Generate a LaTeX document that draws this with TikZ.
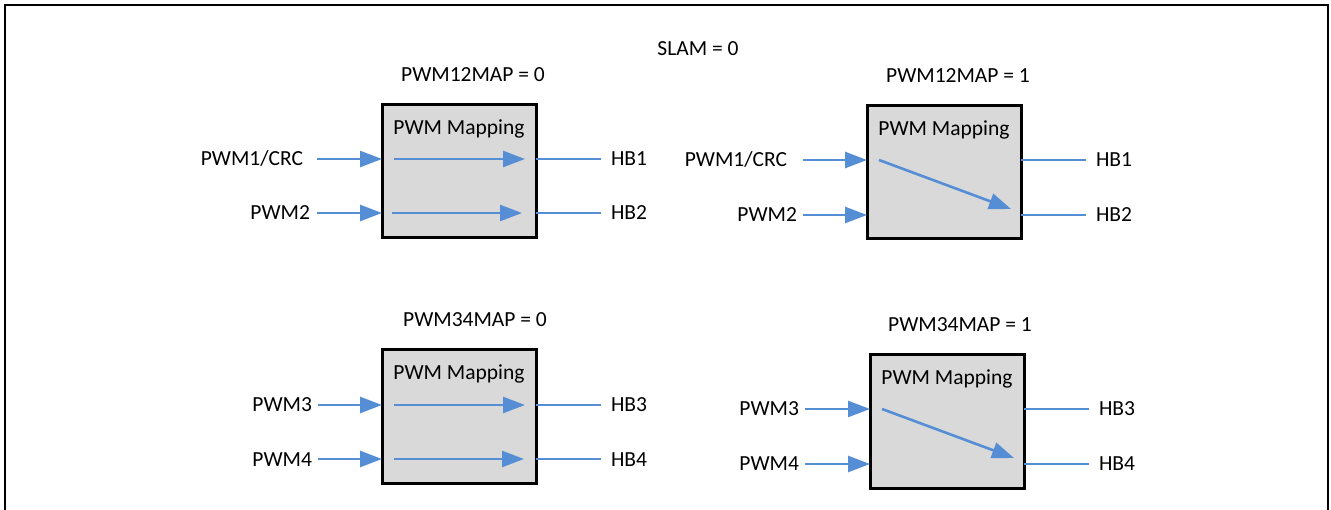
\documentclass[tikz,border=0pt]{standalone}
\usepackage{fontspec}
\setmainfont{Carlito}
\usepackage{xcolor}
\definecolor{sigblue}{RGB}{85, 142, 213}
\definecolor{boxgray}{RGB}{217, 217, 217}
\usetikzlibrary{
  arrows.meta,
  positioning
}

\begin{document}
\begin{tikzpicture}[x=1pt, y=-1pt,
  font=\fontsize{21.5}{26}\selectfont,
  mapbox/.style={draw=black, line width=3pt, fill=boxgray,
    minimum width=154pt, minimum height=133pt, inner sep=0pt},
  lbl/.style={inner sep=0pt, outer sep=0pt, text height=14pt, text depth=0pt},
  sig/.style={draw=sigblue, line width=2.6pt},
  sigarrow/.style={sig, -{Triangle[length=22pt, width=16pt]}}]

  \useasboundingbox (0, 0) rectangle (1331, 510);

  % outer frame (open at the bottom)
  \draw[line width=2pt] (5, 530) -- (5, 5) -- (1328, 5) -- (1328, 530);

  \node[lbl, anchor=base] (slam) at (698, 56) {SLAM = 0};

  % PWM12MAP = 0: straight through
  \begin{scope}[shift={(382, 105)}]
    \node[mapbox] (m12a) at (77, 66.5) {};
    \node[lbl, anchor=base] (m12at) at (77, 30) {PWM Mapping};
    \node[lbl, anchor=base] (m12ah) at (91, -23) {PWM12MAP = 0};
    \coordinate (m12ai1) at (0, 54);
    \coordinate (m12ai2) at (0, 108);
    \coordinate (m12ao1) at (154, 54);
    \coordinate (m12ao2) at (154, 108);
    \node[lbl, left=79pt of m12ai1] (pwm1a) {PWM1/CRC};
    \node[lbl, left=72pt of m12ai2] (pwm2a) {PWM2};
    \node[lbl, right=75pt of m12ao1] (hb1a) {HB1};
    \node[lbl, right=75pt of m12ao2] (hb2a) {HB2};
    \draw[sigarrow, shorten <=14pt] (pwm1a) -- (m12ai1);
    \draw[sigarrow, shorten <=7pt] (pwm2a) -- (m12ai2);
    \draw[sig, shorten >=10pt] (m12ao1) -- (hb1a);
    \draw[sig, shorten >=10pt] (m12ao2) -- (hb2a);
    \draw[sigarrow] ([xshift=12pt]m12ai1) -- ([xshift=-11pt]m12ao1);
    \draw[sigarrow] ([xshift=10pt]m12ai2) -- ([xshift=-14pt]m12ao2);
  \end{scope}

  % PWM12MAP = 1: PWM1/CRC drives HB2
  \begin{scope}[shift={(867, 106)}]
    \node[mapbox] (m12b) at (77, 66.5) {};
    \node[lbl, anchor=base] (m12bt) at (77, 30) {PWM Mapping};
    \node[lbl, anchor=base] (m12bh) at (91, -23) {PWM12MAP = 1};
    \coordinate (m12bi1) at (0, 54);
    \coordinate (m12bi2) at (0, 109);
    \coordinate (m12bo1) at (154, 54);
    \coordinate (m12bo2) at (154, 109);
    \node[lbl, left=80pt of m12bi1] (pwm1b) {PWM1/CRC};
    \node[lbl, left=70pt of m12bi2] (pwm2b) {PWM2};
    \node[lbl, right=75pt of m12bo1] (hb1b) {HB1};
    \node[lbl, right=75pt of m12bo2] (hb2b) {HB2};
    \draw[sigarrow, shorten <=16pt] (pwm1b) -- (m12bi1);
    \draw[sigarrow, shorten <=6pt] (pwm2b) -- (m12bi2);
    \draw[sig, shorten >=10pt] (m12bo1) -- (hb1b);
    \draw[sig, shorten >=10pt] (m12bo2) -- (hb2b);
    \draw[sigarrow] ([xshift=12pt]m12bi1) -- ([xshift=-10pt, yshift=6pt]m12bo2);
  \end{scope}

  % PWM34MAP = 0: straight through
  \begin{scope}[shift={(382, 350)}]
    \node[mapbox] (m34a) at (77, 66.5) {};
    \node[lbl, anchor=base] (m34at) at (77, 30) {PWM Mapping};
    \node[lbl, anchor=base] (m34ah) at (93, -23) {PWM34MAP = 0};
    \coordinate (m34ai1) at (0, 55);
    \coordinate (m34ai2) at (0, 109);
    \coordinate (m34ao1) at (154, 55);
    \coordinate (m34ao2) at (154, 109);
    \node[lbl, left=70pt of m34ai1] (pwm3a) {PWM3};
    \node[lbl, left=70pt of m34ai2] (pwm4a) {PWM4};
    \node[lbl, right=75pt of m34ao1] (hb3a) {HB3};
    \node[lbl, right=75pt of m34ao2] (hb4a) {HB4};
    \draw[sigarrow, shorten <=6pt] (pwm3a) -- (m34ai1);
    \draw[sigarrow, shorten <=6pt] (pwm4a) -- (m34ai2);
    \draw[sig, shorten >=10pt] (m34ao1) -- (hb3a);
    \draw[sig, shorten >=10pt] (m34ao2) -- (hb4a);
    \draw[sigarrow] ([xshift=12pt]m34ai1) -- ([xshift=-11pt]m34ao1);
    \draw[sigarrow] ([xshift=12pt]m34ai2) -- ([xshift=-12pt]m34ao2);
  \end{scope}

  % PWM34MAP = 1: PWM3 drives HB4
  \begin{scope}[shift={(870, 355)}]
    \node[mapbox] (m34b) at (77, 66.5) {};
    \node[lbl, anchor=base] (m34bt) at (77, 30) {PWM Mapping};
    \node[lbl, anchor=base] (m34bh) at (90, -23) {PWM34MAP = 1};
    \coordinate (m34bi1) at (0, 54);
    \coordinate (m34bi2) at (0, 109);
    \coordinate (m34bo1) at (154, 54);
    \coordinate (m34bo2) at (154, 109);
    \node[lbl, left=71pt of m34bi1] (pwm3b) {PWM3};
    \node[lbl, left=71pt of m34bi2] (pwm4b) {PWM4};
    \node[lbl, right=75pt of m34bo1] (hb3b) {HB3};
    \node[lbl, right=75pt of m34bo2] (hb4b) {HB4};
    \draw[sigarrow, shorten <=6pt] (pwm3b) -- (m34bi1);
    \draw[sigarrow, shorten <=6pt] (pwm4b) -- (m34bi2);
    \draw[sig, shorten >=10pt] (m34bo1) -- (hb3b);
    \draw[sig, shorten >=10pt] (m34bo2) -- (hb4b);
    \draw[sigarrow] ([xshift=12pt]m34bi1) -- ([xshift=-10pt, yshift=6pt]m34bo2);
  \end{scope}

\end{tikzpicture}
\end{document}
